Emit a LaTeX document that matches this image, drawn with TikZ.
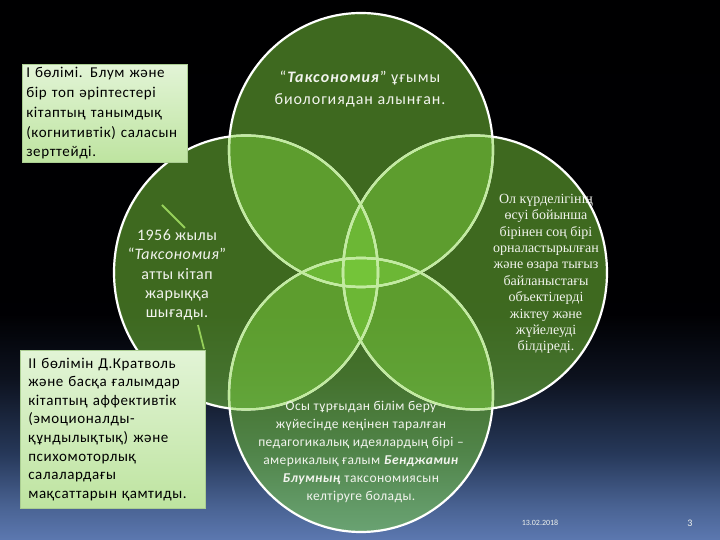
\documentclass[tikz,border=0pt]{standalone}
\usepackage{fontspec}
\setmainfont{Carlito}
\newfontfamily\serifru{Liberation Serif}
\newfontfamily\wideA[LetterSpace=4]{Carlito}
\newfontfamily\wideB[LetterSpace=6]{Carlito}
\newfontfamily\wideC[LetterSpace=3]{Carlito}
\definecolor{circgreen}{RGB}{124,210,61}
\definecolor{palearc}{RGB}{194,235,160}
\definecolor{boxtop}{RGB}{226,244,214}
\definecolor{boxbot}{RGB}{190,228,160}
\definecolor{boxline}{RGB}{170,205,145}
\definecolor{conn}{RGB}{150,208,90}
\definecolor{txt}{RGB}{242,244,238}
\pgfdeclareverticalshading{bgshade}{100bp}{rgb(0bp)=(0.36,0.47,0.69); rgb(25bp)=(0.36,0.47,0.69); rgb(28bp)=(0.29,0.39,0.58); rgb(33bp)=(0.15,0.22,0.35); rgb(40bp)=(0.05,0.07,0.12); rgb(46bp)=(0,0,0.01); rgb(100bp)=(0,0,0)}
\tikzset{
  circfill/.style={fill=circgreen, fill opacity=0.5},
  infobox/.style={draw=boxline, line width=0.6pt, top color=boxtop, bottom color=boxbot, anchor=north west, align=left, inner ysep=3pt, text=black},
  circtext/.style={text=txt, align=center, inner sep=0pt},
  connector/.style={draw=conn, line width=1.8pt}
}
\begin{document}
\begin{tikzpicture}[x=1pt,y=1pt]
\useasboundingbox (0,0) rectangle (720,540);
\shade[shading=bgshade] (0,0) rectangle (720,540);
% circles
\def\rx{132}\def\ry{137}
\foreach \c in {(361,390),(246,267.5),(475,267.5),(361,145)}{
  \fill[circfill] \c ellipse[x radius=\rx, y radius=\ry];
}
\foreach \c in {(361,390),(246,267.5),(475,267.5),(361,145)}{
  \draw[white, line width=2.2pt] \c ellipse[x radius=\rx, y radius=\ry];
}
\foreach \a in {(361,390),(246,267.5),(475,267.5),(361,145)}{
  \foreach \b in {(361,390),(246,267.5),(475,267.5),(361,145)}{
    \begin{scope}
      \clip \b ellipse[x radius=\rx-1.2, y radius=\ry-1.2];
      \draw[palearc, line width=2.2pt] \a ellipse[x radius=\rx, y radius=\ry];
    \end{scope}
  }
}
% texts in circles
\node[circtext, font=\wideB\fontsize{16}{22}\selectfont] (ttop) at (360,451)
  {“\textbf{\textit{Таксономия}}” ұғымы\\биологиядан алынған.};
\node[circtext, font=\wideC\fontsize{16}{19.2}\selectfont] (tleft) at (177,265)
  {1956 жылы\\“\textit{Таксономия}”\\атты кітап\\жарыққа\\шығады.};
\node[circtext, font=\serifru\fontsize{14}{16.4}\selectfont] (tright) at (546,266)
  {Ол күрделігінің\\өсуі бойынша\\бірінен соң бірі\\орналастырылған\\және өзара тығыз\\байланыстағы\\объектілерді\\жіктеу және\\жүйелеуді\\білдіреді.};
\node[circtext, font=\wideC\fontsize{13.5}{18}\selectfont] (tbot) at (361,88)
  {Осы тұрғыдан білім беру\\жүйесінде кеңінен таралған\\педагогикалық идеялардың бірі –\\америкалық ғалым \textbf{\textit{Бенджамин}}\\\textbf{\textit{Блумның}} таксономиясын\\келтіруге болады.};
% boxes
\node[infobox, inner xsep=4pt, text width=157pt, minimum height=97pt, font=\wideA\fontsize{15}{19.8}\selectfont] (box1) at (22,476)
  {I бөлімі. Блум және\\бір топ әріптестері\\кітаптың танымдық\\(когнитивтік) саласын\\зерттейді.};
\node[infobox, inner xsep=8pt, text width=169pt, minimum height=158pt, font=\wideA\fontsize{15}{18.6}\selectfont] (box2) at (20,190)
  {II бөлімін Д.Кратволь\\және басқа ғалымдар\\кітаптың аффективтік\\(эмоционалды-\\құндылықтық) және\\психомоторлық\\салалардағы\\мақсаттарын қамтиды.};
% connectors
\coordinate (c1a) at (162,335);
\coordinate (c1b) at (185,312);
\coordinate (c2a) at (198,215);
\coordinate (c2b) at (204,191);
\draw[connector] (c1a) -- (c1b);
\draw[connector] (c2a) -- (c2b);
% footer
\node[text=txt, font=\fontsize{8}{9}\selectfont, inner sep=0pt] (date) at (540,17) {13.02.2018};
\node[text=txt, font=\fontsize{10}{11}\selectfont, inner sep=0pt] (pnum) at (690,17) {3};
\end{tikzpicture}
\end{document}
